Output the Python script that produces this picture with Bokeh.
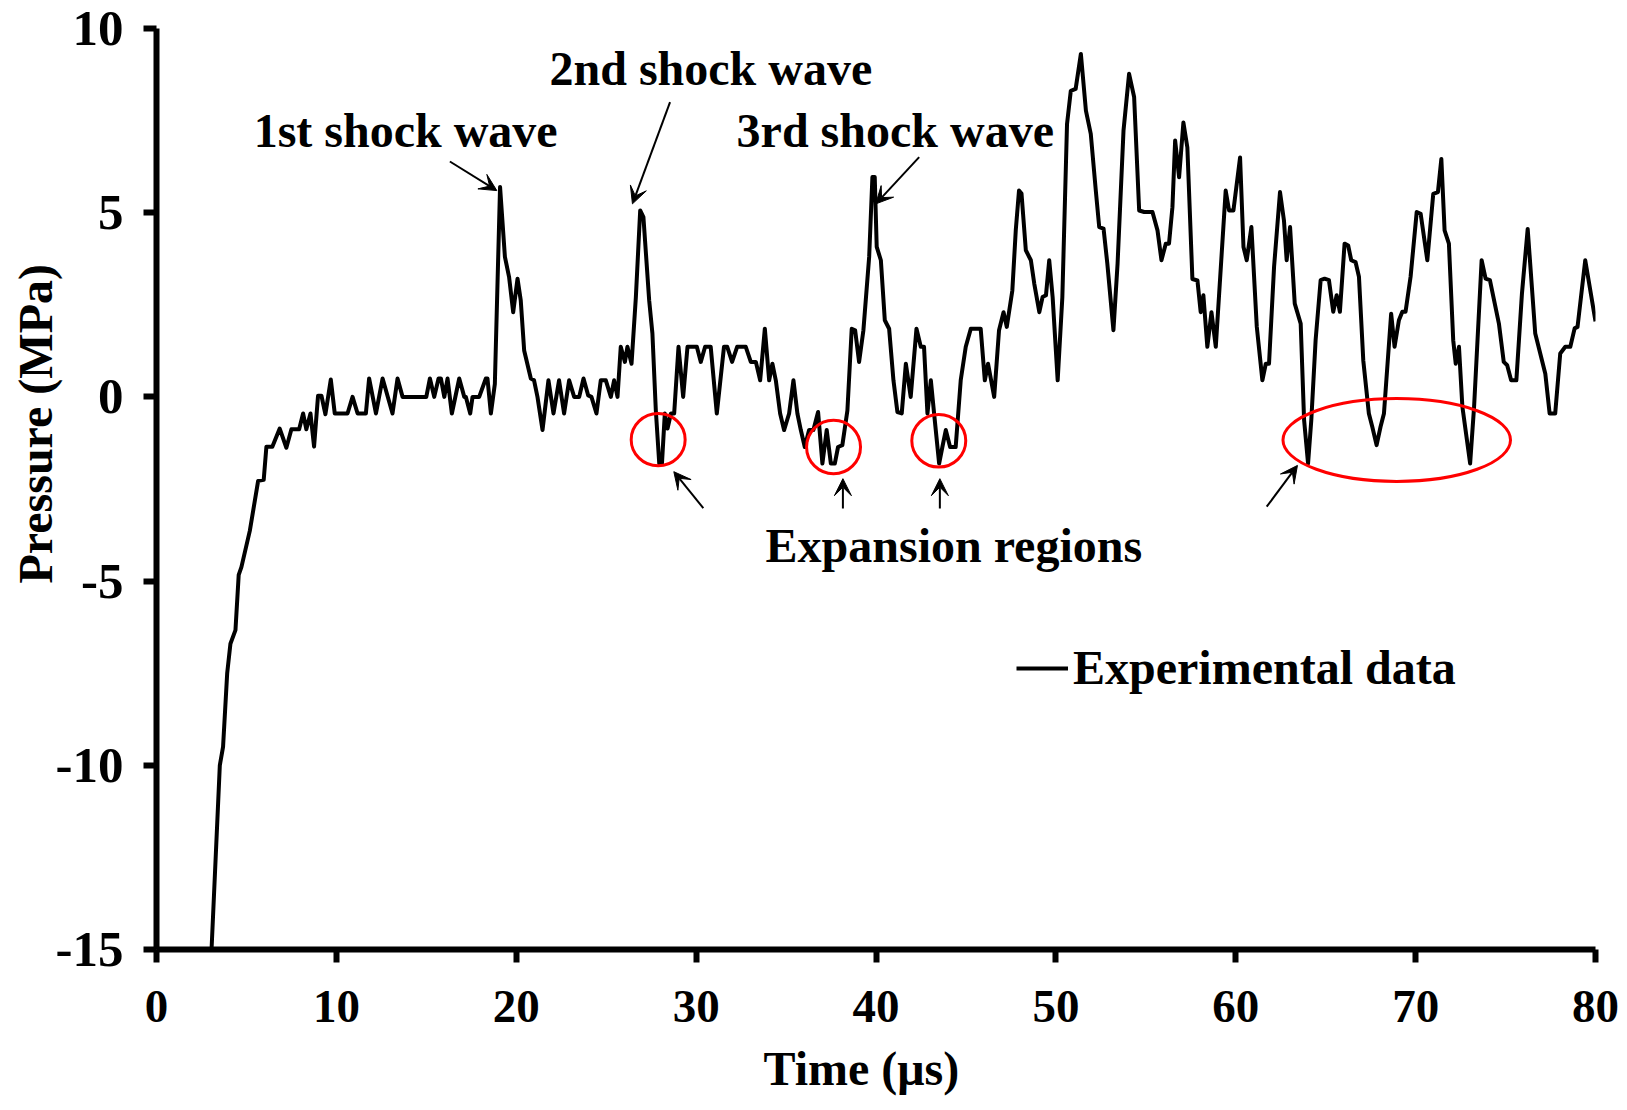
from bokeh.plotting import figure
from bokeh.models import Range1d, FixedTicker, Arrow, VeeHead, Label, Legend, LegendItem, Title
from bokeh.embed import file_html
from bokeh.resources import INLINE

# Measured pressure trace: time in microseconds, pressure in MPa
time_us = [
    3.06, 3.52, 3.70, 3.93, 4.11, 4.39, 4.57, 4.72, 5.19, 5.65, 5.96, 6.11, 6.44, 6.85,
    7.22, 7.50, 7.93, 8.15, 8.33, 8.56, 8.76, 8.98, 9.17, 9.39, 9.69, 9.91,
    10.62, 10.90, 11.18, 11.64, 11.82, 12.20, 12.57, 13.12, 13.40, 13.68, 15.00, 15.20,
    15.44, 15.68, 15.81, 16.00, 16.18, 16.42, 16.83, 17.11, 17.20, 17.44, 17.57, 17.94,
    18.31, 18.40, 18.59, 18.81,
    19.10, 19.37, 19.60, 19.83, 20.07, 20.25, 20.44, 20.81, 20.99, 21.18, 21.46, 21.79,
    22.07, 22.38, 22.66, 22.94, 23.22, 23.50, 23.74, 24.00, 24.18, 24.46, 24.70, 24.98,
    25.26, 25.44, 25.63, 25.81, 26.04, 26.18, 26.41, 26.65, 26.89, 27.07, 27.39, 27.57,
    27.76, 27.95, 28.10, 28.26, 28.41, 28.60, 28.78, 29.02, 29.28, 29.52, 29.80, 30.04,
    30.26, 30.50, 30.81, 31.15, 31.55, 31.73, 32.00, 32.28, 32.76, 33.04, 33.32, 33.56,
    33.82, 34.06, 34.24, 34.43, 34.67, 34.89, 35.17, 35.41, 35.63, 35.82, 36.04, 36.28,
    36.52, 36.78, 37.02, 37.26, 37.49, 37.71, 37.89, 38.13, 38.41, 38.65, 38.84, 39.06,
    39.30, 39.62, 39.80, 39.93, 40.04, 40.27, 40.49, 40.73, 40.97, 41.19, 41.43, 41.66,
    41.93, 42.25, 42.49, 42.67, 42.86, 43.05, 43.23, 43.51, 43.69, 43.88, 44.12, 44.43,
    44.71, 44.99, 45.27, 45.82,
    46.05, 46.23, 46.57, 46.84, 47.09, 47.27, 47.58, 47.77, 47.95, 48.09, 48.33, 48.61,
    48.80, 49.08, 49.26, 49.45, 49.63, 49.82, 50.10, 50.36, 50.62, 50.83, 51.10, 51.39,
    51.67, 51.94, 52.22, 52.41, 52.65, 52.86, 53.20, 53.43, 53.76, 54.07, 54.35, 54.63,
    54.91, 55.37, 55.65, 55.87, 56.11, 56.29, 56.48, 56.63, 56.85, 57.09, 57.31, 57.59,
    57.87, 58.05, 58.20, 58.42, 58.65, 58.89,
    59.44, 59.63, 59.87, 60.24, 60.43, 60.61, 60.87, 61.17, 61.48, 61.67, 61.85, 62.13,
    62.46, 62.68, 62.83, 63.02, 63.28, 63.61, 63.80, 64.02, 64.20, 64.44, 64.72, 64.94,
    65.18, 65.42, 65.61, 65.79, 66.05, 66.25, 66.42, 66.66, 66.85, 67.09, 67.40, 67.59,
    67.83, 68.05, 68.24, 68.64, 68.83, 69.07, 69.26, 69.44, 69.72, 70.06, 70.28, 70.65,
    70.98, 71.24, 71.43, 71.61, 71.85, 72.09, 72.23, 72.41, 72.60, 73.03, 73.25, 73.67,
    73.89, 74.13, 74.63, 74.90, 75.09, 75.31, 75.60, 75.91, 76.23, 76.65, 77.21, 77.45,
    77.76, 78.04, 78.32, 78.60, 78.84, 79.00, 79.43, 80.00,
]
pressure_mpa = [
    -15.0, -10.0, -9.5, -7.5, -6.7, -6.33, -4.83, -4.62, -3.63, -2.28, -2.25, -1.35, -1.35, -0.86,
    -1.38, -0.88, -0.88, -0.45, -0.88, -0.45, -1.35, 0.03, 0.03, -0.47, 0.47, -0.45,
    -0.45, 0.0, -0.45, -0.45, 0.5, -0.45, 0.5, -0.45, 0.5, 0.0, 0.0, 0.5,
    0.0, 0.5, 0.5, 0.0, 0.5, -0.45, 0.5, 0.0, 0.0, -0.45, 0.0, 0.0,
    0.5, 0.5, -0.45, 0.35,
    5.7, 3.8, 3.26, 2.3, 3.21, 2.62, 1.26, 0.5, 0.45, 0.0, -0.9, 0.45,
    -0.45, 0.45, -0.45, 0.45, 0.0, 0.0, 0.5, 0.04, 0.0, -0.45, 0.45, 0.45,
    0.0, 0.45, 0.0, 1.36, 0.95, 1.36, 0.9, 2.71, 5.06, 4.88, 2.62, 1.72,
    -0.37, -1.81, -1.81, -0.45, -0.86, -0.45, -0.45, 1.36, 0.0, 1.36, 1.36, 1.36,
    0.95, 1.36, 1.36, -0.45, 1.36, 1.36, 0.95, 1.36, 1.36, 0.95, 0.95, 0.45,
    1.85, 0.45, 0.9, 0.45, -0.45, -0.9, -0.45, 0.45, -0.45, -0.9, -1.36, -0.9,
    -0.9, -0.41, -1.81, -0.9, -1.81, -1.81, -1.36, -1.31, -0.37, 1.85, 1.81, 0.95,
    1.81, 3.8, 5.97, 5.97, 4.07, 3.71, 2.08, 1.85, 0.45, -0.41, -0.45, 0.9,
    0.0, 1.85, 1.36, 1.36, -0.45, 0.45, -0.45, -1.81, -1.36, -0.9, -1.36, -1.36,
    0.45, 1.36, 1.85, 1.85,
    0.45, 0.9, 0.0, 1.81, 2.3, 1.9, 2.89, 4.52, 5.6, 5.52, 3.98, 3.71,
    3.07, 2.3, 2.71, 2.76, 3.71, 2.71, 0.45, 2.71, 7.41, 8.31, 8.36, 9.31,
    7.77, 7.14, 5.6, 4.61, 4.57, 3.62, 1.81, 3.62, 7.23, 8.77, 8.14, 5.06,
    5.02, 5.02, 4.52, 3.71, 4.16, 4.16, 5.15, 6.96, 5.96, 7.45, 6.77, 3.2,
    3.16, 2.3, 2.76, 1.36, 2.3, 1.36,
    5.6, 5.06, 5.06, 6.5, 4.07, 3.71, 4.61, 1.9, 0.45, 0.9, 0.9, 3.53,
    5.56, 4.79, 3.71, 4.61, 2.53, 1.99, -0.63, -1.81, -0.63, 1.54, 3.17, 3.21,
    3.17, 2.31, 2.76, 2.31, 4.16, 4.11, 3.71, 3.66, 3.26, 0.99, -0.45, -0.81,
    -1.31, -0.81, -0.45, 2.26, 1.36, 2.08, 2.31, 2.31, 3.26, 5.02, 4.97, 3.71,
    5.51, 5.56, 6.46, 4.52, 4.16, 1.54, 0.9, 1.36, -0.27, -1.81, -0.27, 3.71,
    3.21, 3.17, 1.99, 0.95, 0.86, 0.45, 0.45, 2.8, 4.56, 1.72, 0.63, -0.45,
    -0.45, 1.18, 1.36, 1.36, 1.86, 1.9, 3.71, 2.05,
]

x_ticks = [0, 10, 20, 30, 40, 50, 60, 70, 80]
y_ticks = [-15, -10, -5, 0, 5, 10]

FONT = "Liberation Serif"
TEXT_SIZE = "48px"

p = figure(
    width=1627, height=1110,
    min_border_left=156, min_border_right=32, min_border_top=28, min_border_bottom=161,
    x_range=Range1d(0, 80), y_range=Range1d(-15, 10),
    output_backend="svg", toolbar_location=None,
)
p.outline_line_color = None
p.xgrid.visible = False
p.ygrid.visible = False
p.background_fill_color = "white"
p.border_fill_color = "white"

for ax in (p.xaxis[0], p.yaxis[0]):
    ax.axis_line_width = 6
    ax.axis_line_color = "black"
    ax.major_tick_line_width = 6
    ax.major_tick_line_color = "black"
    ax.major_tick_out = 13
    ax.major_tick_in = 0
    ax.minor_tick_line_color = None
    ax.major_label_text_font = FONT
    ax.major_label_text_font_style = "bold"
    ax.major_label_text_color = "black"

p.xaxis.ticker = FixedTicker(ticks=x_ticks)
p.xaxis.major_label_text_font_size = "47px"
p.xaxis.major_label_standoff = 28

p.yaxis.ticker = FixedTicker(ticks=y_ticks)
p.yaxis.major_label_overrides = {v: str(v) for v in y_ticks}
p.yaxis.major_label_text_font_size = "51px"
p.yaxis.major_label_standoff = 20

# axis titles as side-panel titles so they can sit off-centre along the axes
y_title = Title(
    text="Pressure (MPa)", align="left", offset=366, standoff=-18,
    text_font=FONT, text_font_style="bold", text_font_size=TEXT_SIZE, text_color="black",
)
p.add_layout(y_title, "left")

x_title = Title(
    text="Time (μs)", align="left", offset=607, standoff=31,
    text_font=FONT, text_font_style="bold", text_font_size=TEXT_SIZE, text_color="black",
)
p.add_layout(x_title, "below")

trace = p.line(time_us, pressure_mpa, line_color="black", line_width=4, line_join="round")

# red rings around the expansion (rarefaction) troughs
p.ellipse(
    x=[27.89, 37.64, 43.49, 68.95], y=[-1.16, -1.36, -1.19, -1.17],
    width=[3.0, 3.0, 3.0, 12.65], height=[1.42, 1.45, 1.43, 2.25],
    fill_color=None, line_color="#ff0000", line_width=3,
)

# annotation texts: (left x, baseline y, text)
notes = [
    (5.40, 7.22, "1st shock wave"),
    (21.85, 8.91, "2nd shock wave"),
    (32.25, 7.22, "3rd shock wave"),
    (33.86, -4.04, "Expansion regions"),
]
for nx, ny, txt in notes:
    p.add_layout(Label(
        x=nx, y=ny, text=txt, text_align="left", text_baseline="alphabetic",
        text_font=FONT, text_font_style="bold", text_font_size=TEXT_SIZE, text_color="black",
    ))

# pointer arrows: (x_start, y_start, x_end, y_end)
pointers = [
    (16.31, 6.39, 18.92, 5.60),
    (28.55, 8.00, 26.46, 5.24),
    (42.40, 6.51, 39.99, 5.24),
    (30.40, -3.02, 28.76, -2.03),
    (38.16, -3.03, 38.16, -2.22),
    (43.55, -3.03, 43.55, -2.22),
    (61.72, -2.98, 63.43, -1.86),
]
for xs, ys, xe, ye in pointers:
    p.add_layout(Arrow(
        x_start=xs, y_start=ys, x_end=xe, y_end=ye,
        line_color="black", line_width=2,
        end=VeeHead(size=17, fill_color="black", line_color="black", line_width=1),
    ))

legend = Legend(
    items=[LegendItem(label="Experimental data", renderers=[trace])],
    location=(860, 254),
    border_line_color=None, background_fill_alpha=0,
    padding=0, margin=0, spacing=0,
    glyph_width=52, glyph_height=20, label_standoff=5,
    label_text_font=FONT, label_text_font_style="bold",
    label_text_font_size=TEXT_SIZE, label_text_color="black",
)
p.add_layout(legend)

open("out.html", "w").write(file_html(p, INLINE))
